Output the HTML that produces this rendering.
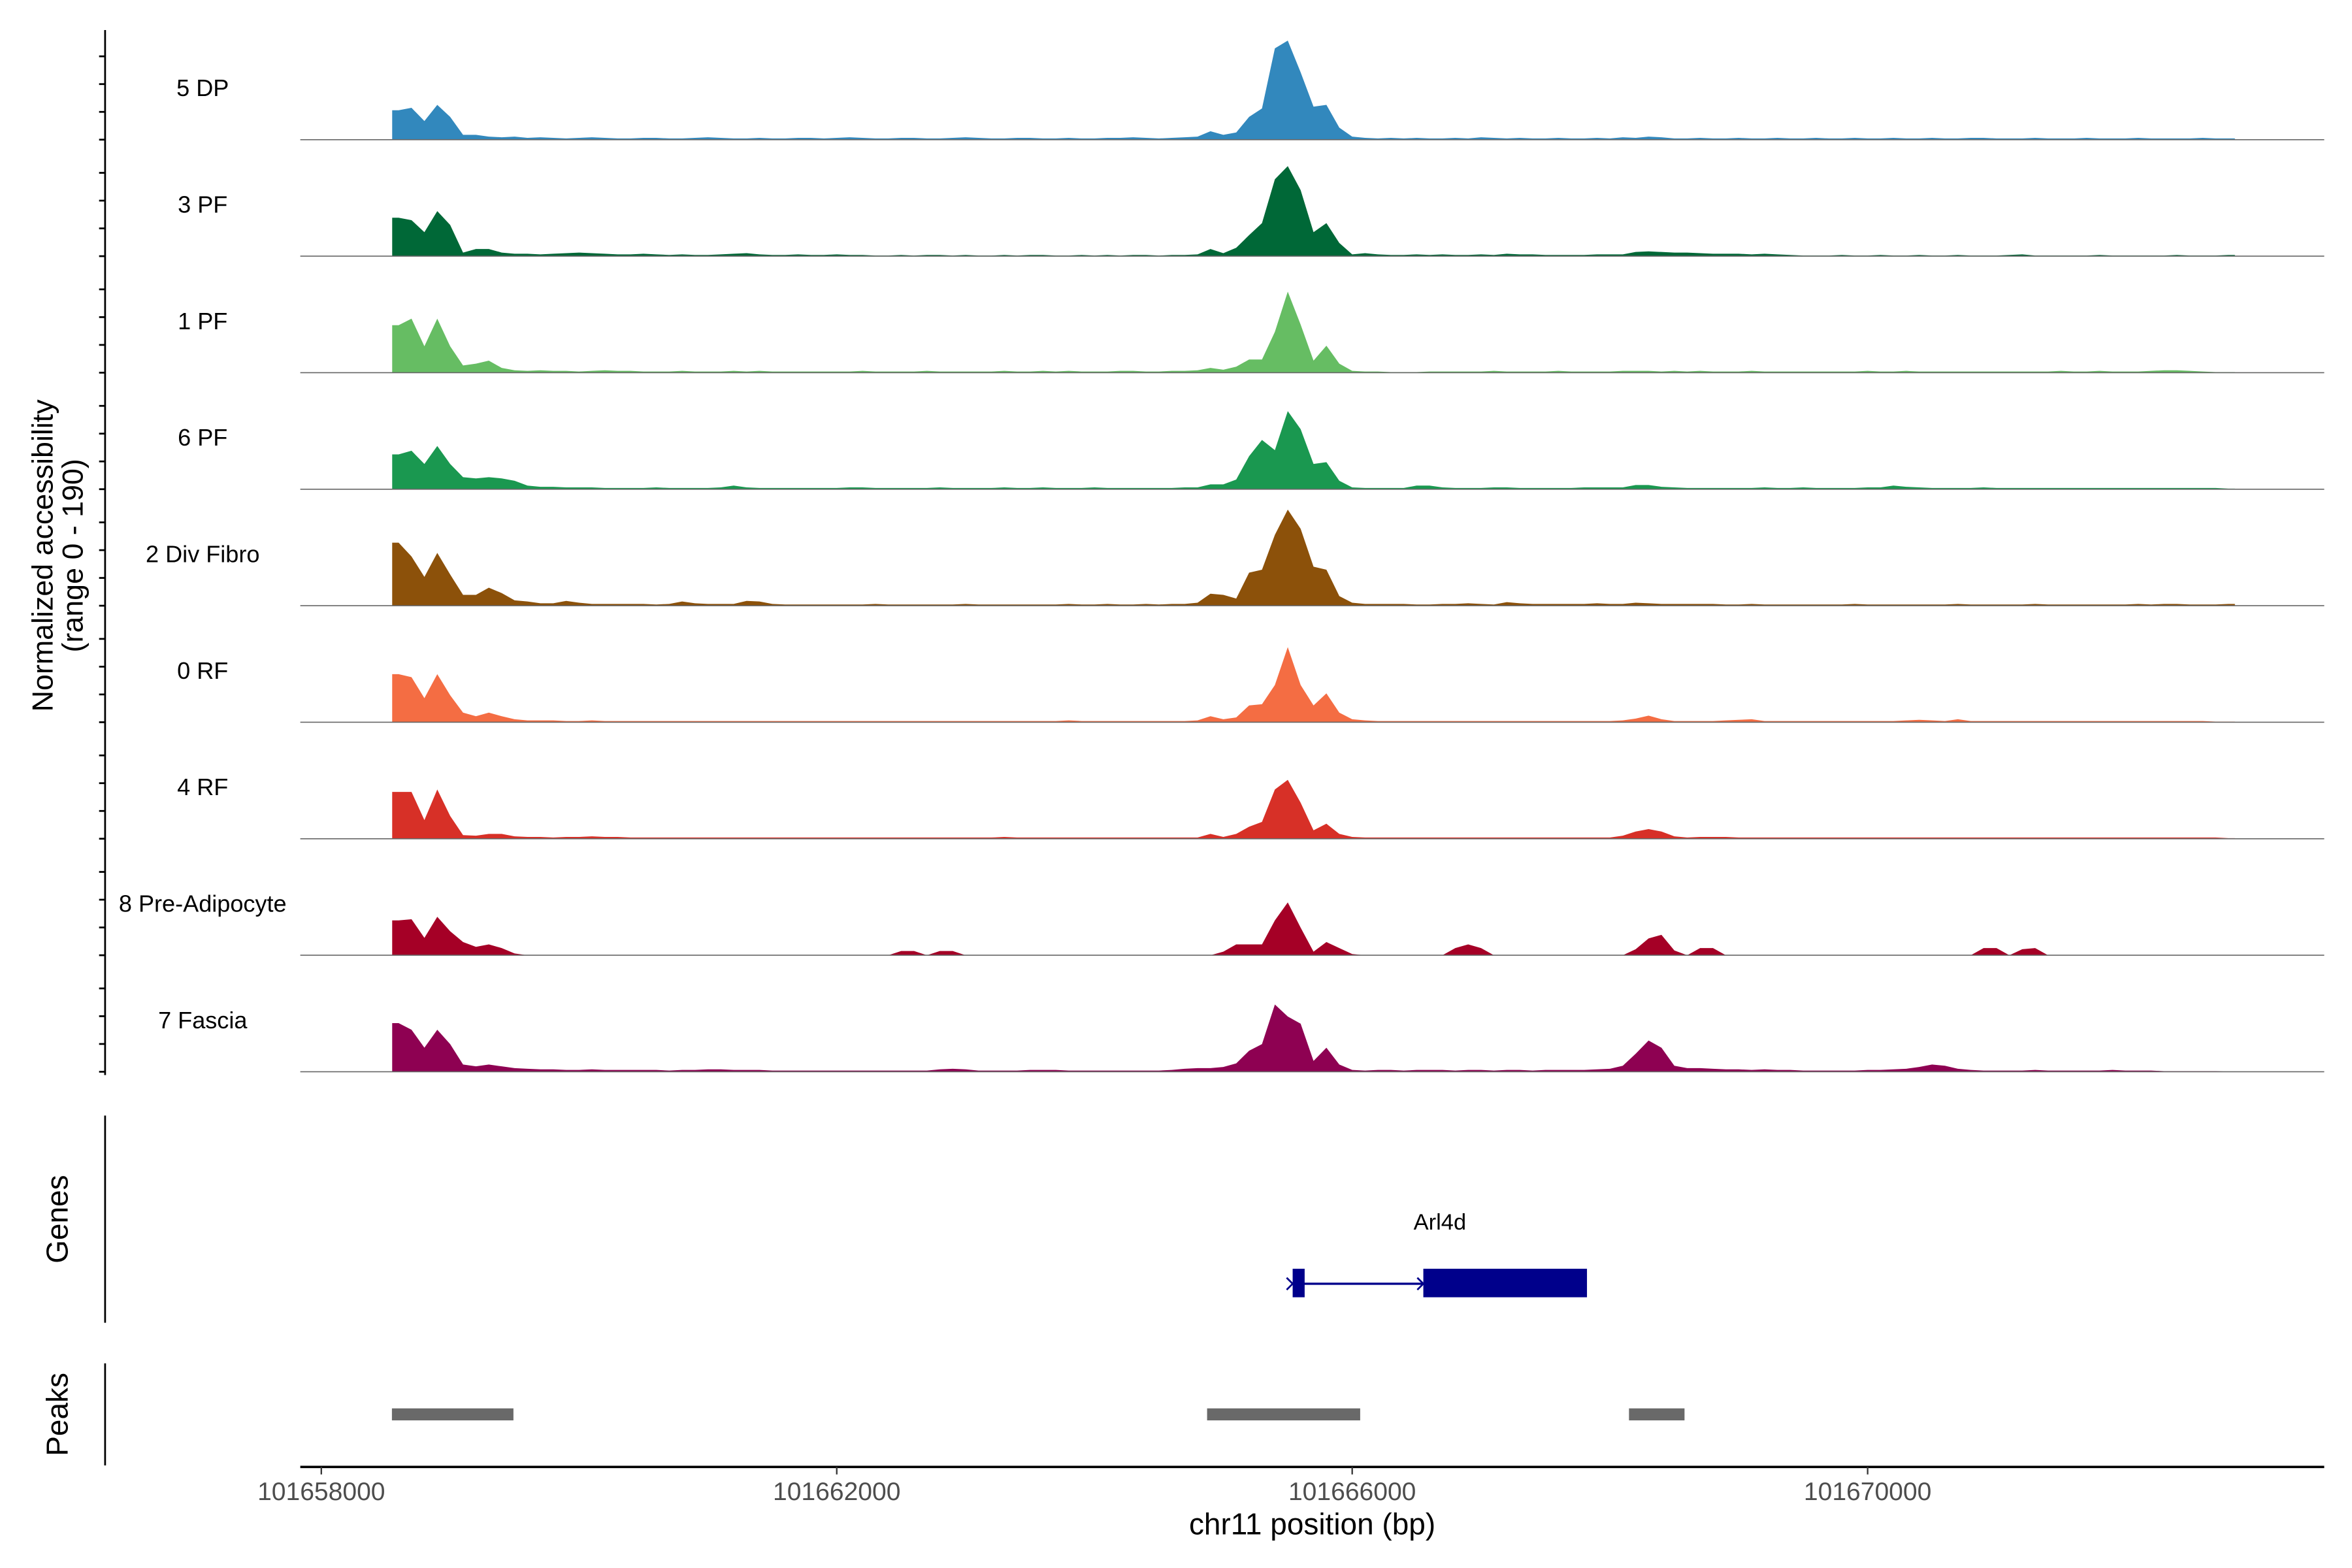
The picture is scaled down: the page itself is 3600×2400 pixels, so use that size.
<!DOCTYPE html>
<html><head><meta charset="utf-8"><style>
html,body{margin:0;padding:0;background:#fff;}
svg{display:block;}
text{font-family:"Liberation Sans",sans-serif;}
</style></head><body>
<svg id="chart" xmlns="http://www.w3.org/2000/svg" width="3600" height="2400" viewBox="0 0 1566.5 1044.3">
<rect x="0" y="0" width="1566.5" height="1044.3" fill="#fff"/>
<g id="tracks"></g>
<line x1="70" y1="20" x2="70" y2="716" stroke="#000" stroke-width="1.2"/>
<g id="yticks"></g>
<text transform="translate(35,370) rotate(-90)" text-anchor="middle" font-size="19.5">Normalized accessibility</text>
<text transform="translate(55,370) rotate(-90)" text-anchor="middle" font-size="19.5">(range 0 - 190)</text>
<line x1="70" y1="743" x2="70" y2="881" stroke="#000" stroke-width="1.2"/>
<text transform="translate(45,812) rotate(-90)" text-anchor="middle" font-size="20">Genes</text>
<g id="genes"></g>
<line x1="70" y1="908" x2="70" y2="976" stroke="#000" stroke-width="1.2"/>
<text transform="translate(45,942) rotate(-90)" text-anchor="middle" font-size="20">Peaks</text>
<g id="peaks"></g>
<line x1="200" y1="977" x2="1548" y2="977" stroke="#000" stroke-width="1.6"/>
<g id="xticks"></g>
<text x="874" y="1022" text-anchor="middle" font-size="20">chr11 position (bp)</text>
</svg>
<script>
const trackNames = ["5 DP","3 PF","1 PF","6 PF","2 Div Fibro","0 RF","4 RF","8 Pre-Adipocyte","7 Fascia"];
const trackColors = ["#3288bd","#006837","#66bd63","#1a9850","#8c510a","#f46d43","#d73027","#a50026","#8e0152"];
const binStart = 101658550;
const binSize = 100;
const cov5DP = [49,53,31,58,38,8,8,5,4,5, 3,4,3,2,3,4,3,2,2,3, 3,2,2,3,4,3,2,2,3,2, 2,3,3,2,3,4,3,2,2,3, 3,2,2,3,4,3,2,2,3,3, 2,2,3,2,2,3,3,4,3,2, 3,4,5,14,8,12,38,52,152,165, 112,55,58,20,5,3,2,3,2,3, 2,2,3,2,4,3,2,3,2,2, 3,2,2,3,2,4,3,5,4,2, 2,3,2,2,3,2,2,3,2,2, 3,2,2,3,2,2,3,2,2,3, 2,2,3,3,2,2,2,3,2,2, 2,3,2,2,2,3,2,2,2,2, 3,2,2];
const cov3PF = [64,60,40,75,52,6,12,12,6,4, 4,3,4,5,6,5,4,3,3,4, 3,2,3,2,2,3,4,5,3,2, 2,3,2,2,3,2,2,1,1,2, 1,2,2,1,2,1,1,2,1,2, 2,1,1,2,1,2,1,2,2,1, 2,2,3,12,5,14,35,55,128,150, 110,40,55,22,3,5,3,2,2,3, 2,3,2,2,3,2,4,3,3,2, 2,2,2,3,3,3,7,8,7,6, 6,5,4,4,4,3,4,3,2,1, 1,1,2,1,1,2,1,1,2,1, 1,2,1,1,1,2,3,1,1,1, 1,1,2,1,1,1,1,1,2,1, 1,1,2];
const cov1PF = [79,90,44,90,44,12,15,20,8,4, 3,4,3,3,2,3,4,3,3,2, 2,2,3,2,2,2,3,2,3,2, 2,2,2,2,2,2,3,2,2,2, 2,3,2,2,2,2,2,3,2,2, 3,2,3,2,2,2,3,3,2,2, 3,3,4,8,5,10,22,22,68,135, 80,20,45,15,3,2,2,1,1,1, 2,2,2,2,2,3,2,2,2,2, 3,2,2,2,2,3,3,3,2,3, 2,3,2,2,2,3,2,2,2,2, 2,2,2,2,3,2,2,3,2,2, 2,2,2,2,2,2,2,2,2,3, 2,2,3,2,2,2,3,4,4,3, 2,1,1];
const cov6PF = [58,64,42,72,42,20,18,20,18,14, 6,4,4,3,3,3,2,2,2,2, 3,2,2,2,2,3,6,3,2,2, 2,2,2,2,2,3,3,2,2,2, 2,2,3,2,2,2,2,3,2,2, 3,2,2,2,3,2,2,2,2,2, 2,3,3,8,8,16,55,82,65,130, 100,42,45,14,3,2,2,2,2,6, 6,3,2,2,2,3,3,2,2,2, 2,2,3,3,3,3,7,7,4,3, 2,2,2,2,2,2,3,2,2,3, 2,2,2,2,3,3,6,4,3,2, 2,2,2,3,2,2,2,2,2,2, 2,2,2,2,2,2,2,2,2,2, 2,2,1];
const cov2Div = [105,82,48,88,52,18,18,30,21,9, 7,4,4,8,5,3,3,3,3,3, 2,3,7,4,3,3,3,8,7,3, 2,2,2,2,2,2,2,3,2,2, 2,2,2,2,3,2,2,2,2,2, 2,2,3,2,2,3,2,2,3,2, 3,3,5,20,18,12,55,60,118,160, 128,65,60,16,5,3,3,3,3,2, 2,3,3,4,3,2,6,4,3,3, 3,3,3,4,3,3,5,4,3,3, 3,3,3,2,2,3,2,2,2,2, 2,2,2,3,2,2,2,2,2,2, 2,3,2,2,2,2,2,3,2,2, 2,2,2,2,2,3,2,3,3,2, 2,2,3];
const cov0RF = [80,75,40,80,45,16,10,16,10,5, 3,3,3,2,2,3,2,2,2,2, 2,2,2,2,2,2,2,2,2,2, 2,2,2,2,2,2,2,2,2,2, 2,2,2,2,2,2,2,2,2,2, 2,2,3,2,2,2,2,2,2,2, 2,2,3,10,5,8,28,30,62,125, 62,28,48,16,5,3,2,2,2,2, 2,2,2,2,2,2,2,2,2,2, 2,2,2,2,2,3,6,11,5,2, 2,2,2,3,4,5,2,2,2,2, 2,2,2,2,2,2,2,3,4,3, 2,5,2,2,2,2,2,2,2,2, 2,2,2,2,2,2,2,2,2,2, 2,1,1];
const cov4RF = [78,78,31,82,38,6,5,8,8,4, 3,3,2,3,3,4,3,3,2,2, 2,2,2,2,2,2,2,2,2,2, 2,2,2,2,2,2,2,2,2,2, 2,2,2,2,2,2,2,3,2,2, 2,2,2,2,2,2,2,2,2,2, 2,2,2,8,3,8,20,28,82,98, 60,14,25,8,3,2,2,2,2,2, 2,2,2,2,2,2,2,2,2,2, 2,2,2,2,2,5,12,16,12,4, 2,3,3,3,2,2,2,2,2,2, 2,2,2,2,2,2,2,2,2,2, 2,2,2,2,2,2,2,2,2,2, 2,2,2,2,2,2,2,2,2,2, 2,2,1];
const cov8PreAd = [58,60,29,64,40,22,14,18,12,3, 0,0,0,0,0,0,0,0,0,0, 0,0,0,0,0,0,0,0,0,0, 0,0,0,0,0,0,0,0,0,7, 7,0,7,7,0,0,0,0,0,0, 0,0,0,0,0,0,0,0,0,0, 0,0,0,0,6,18,18,18,58,88, 46,6,22,12,2,0,0,0,0,0, 0,0,12,18,12,0,0,0,0,0, 0,0,0,0,0,0,10,28,34,8, 0,12,12,0,0,0,0,0,0,0, 0,0,0,0,0,0,0,0,0,0, 0,0,0,12,12,0,10,12,0,0, 0,0,0,0,0,0,0,0,0,0, 0,0,0];
const cov7Fascia = [81,70,40,70,46,12,9,12,9,6, 5,4,4,3,3,4,3,3,3,3, 3,2,3,3,4,4,3,3,3,2, 2,2,2,2,2,2,2,2,2,2, 2,2,4,5,4,2,2,2,2,3, 3,3,2,2,2,2,2,2,2,2, 3,5,6,6,8,14,35,46,112,92, 80,18,40,12,3,2,3,3,2,3, 3,3,2,3,3,2,3,3,2,3, 3,3,3,4,5,10,30,52,40,10, 6,6,5,4,4,3,4,3,3,2, 2,2,2,2,3,3,4,5,8,12, 10,5,3,2,2,2,2,3,2,2, 2,2,2,3,2,2,2,1,1,1, 1,1,0];
const allCoverage = [cov5DP,cov3PF,cov1PF,cov6PF,cov2Div,cov0RF,cov4RF,cov8PreAd,cov7Fascia];
const xTickValues = [101658000,101662000,101666000,101670000];
const xTickLabels = ["101658000","101662000","101666000","101670000"];
const geneExonStarts = [101665538,101666552];
const geneExonEnds = [101665631,101667822];
const geneStart = 101665538;
const geneEnd = 101667822;
const geneName = "Arl4d";
const peakStarts = [101658548,101664874,101668148];
const peakEnds = [101659491,101666062,101668579];

const NS = "http://www.w3.org/2000/svg";
function xScale(bp){ return 214 + (bp - 101658000) * (343.3/4000); }
const firstBase = 93, trackStep = 77.6, pxPerUnit = 0.4;
function yScale(v, k){ return firstBase + trackStep*k - v*pxPerUnit; }
function mk(tag, attrs, parent){ const e=document.createElementNS(NS,tag); for(const a in attrs) e.setAttribute(a,attrs[a]); parent.appendChild(e); return e; }

const tg = document.getElementById('tracks');
allCoverage.forEach((arr,k)=>{
  const base = yScale(0,k);
  const g = mk('g',{},tg);
  
  
  const x0 = xScale(binStart);
  let d = 'M' + x0 + ',' + base + ' L' + x0 + ',' + yScale(arr[0],k);
  arr.forEach((v,i)=>{ d += ' L' + xScale(binStart + binSize*(i+0.5)).toFixed(2) + ',' + yScale(v,k).toFixed(2); });
  const xe = xScale(binStart + binSize*arr.length);
  d += ' L' + xe + ',' + yScale(arr[arr.length-1],k) + ' L' + xe + ',' + base + ' Z';
  const p = mk('path',{d:d, fill:trackColors[k], stroke:'none'},g);
  
  
  const bl = mk('line',{x1:200,x2:1548,y1:base,y2:base,stroke:'#666',"stroke-width":0.7},g);
  
  
  const t = mk('text',{x:135,y:base-29,"text-anchor":"middle","font-size":15.7,fill:'#000'},g);
  t.textContent = trackNames[k];
  
  
});

const yt = document.getElementById('yticks');
for(let k=0;k<9;k++){ for(let j=0;j<4;j++){
  const y = yScale(0,k) - 18.5*j;
  const l = mk('line',{x1:66,x2:70,y1:y,y2:y,stroke:'#000',"stroke-width":1.2},yt);
  
  
}}

const xt = document.getElementById('xticks');
xTickValues.forEach((v,i)=>{
  const x = xScale(v);
  const l = mk('line',{x1:x,x2:x,y1:977,y2:982,stroke:'#333',"stroke-width":1},xt);
  
  
  const t = mk('text',{x:x,y:999,"text-anchor":"middle","font-size":17,fill:'#4d4d4d'},xt);
  t.textContent = xTickLabels[i];
  
  
});

const gg = document.getElementById('genes');
const gy = 855;
const gl = mk('line',{x1:xScale(geneStart),x2:xScale(geneExonStarts[1]),y1:gy,y2:gy,stroke:'#00008b',"stroke-width":1.5},gg);


[xScale(geneStart), xScale(geneExonStarts[1])].forEach(x=>{
  const a = mk('path',{d:'M'+(x-4)+','+(gy-4)+' L'+x+','+gy+' L'+(x-4)+','+(gy+4),fill:'none',stroke:'#00008b',"stroke-width":1.2},gg);
  
  
});
geneExonStarts.forEach((s,i)=>{
  const r = mk('rect',{x:xScale(s),y:845,width:xScale(geneExonEnds[i])-xScale(s),height:19,fill:'#00008b'},gg);
  
  
});
const gt = mk('text',{x:959,y:819,"text-anchor":"middle","font-size":15,fill:'#000'},gg);
gt.textContent = geneName;



const pg = document.getElementById('peaks');
peakStarts.forEach((s,i)=>{
  const r = mk('rect',{x:xScale(s),y:938,width:xScale(peakEnds[i])-xScale(s),height:8,fill:'#696969'},pg);
  
  
});
</script>
</body></html>
